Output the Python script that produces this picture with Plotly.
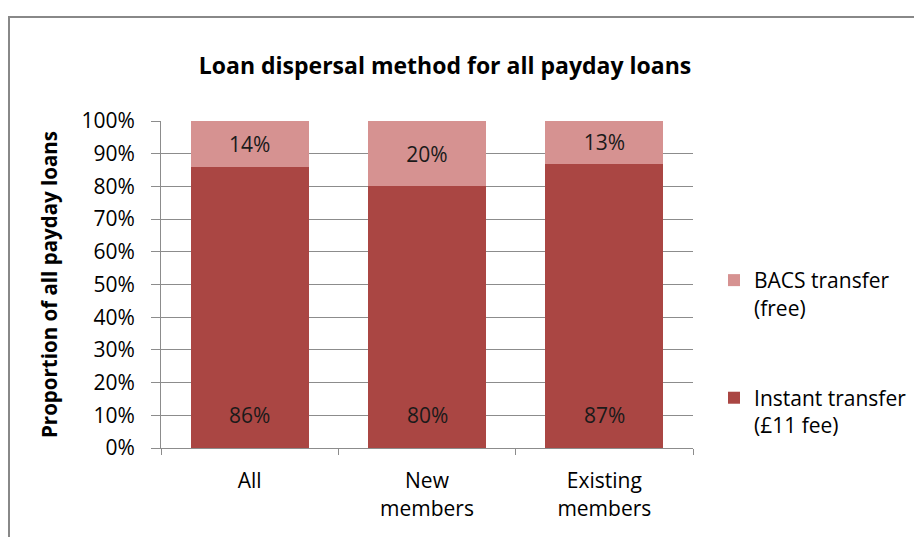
import plotly.graph_objects as go

categories = ["All", "New<br>members", "Existing<br>members"]
instant_pct = [86, 80, 87]
bacs_pct = [14, 20, 13]
series_names = ["Instant transfer<br>(£11 fee)", "BACS transfer<br>(free)"]
y_ticks = list(range(0, 101, 10))
y_tick_text = [f"{v}%" for v in y_ticks]

FONT = "Open Sans, Carlito, Calibri, sans-serif"
DARK = "#AA4643"
LIGHT = "#D69291"
GRID = "#8C8C8C"
TXT = 21

fig = go.Figure()
fig.add_trace(go.Bar(
    x=categories, y=instant_pct, name=series_names[0],
    marker=dict(color=DARK, line=dict(width=0)),
    legendgroup="instant", legendrank=2,
    hoverinfo="skip",
))
fig.add_trace(go.Bar(
    x=categories, y=bacs_pct, name=series_names[1],
    marker=dict(color=LIGHT, line=dict(width=0)),
    text=[f"{v}%" for v in bacs_pct], textposition="inside",
    insidetextanchor="middle", textangle=0,
    textfont=dict(family=FONT, size=TXT, color="#1a1a1a"),
    legendgroup="bacs", legendrank=1,
    hoverinfo="skip",
))

# Labels for the lower segments sit near the base of each bar
for cat, v in zip(categories, instant_pct):
    fig.add_annotation(
        x=cat, y=10, text=f"{v}%", showarrow=False,
        font=dict(family=FONT, size=TXT, color="#1a1a1a"),
        xref="x", yref="y",
    )

# Chart outline
fig.add_shape(
    type="rect", xref="paper", yref="paper",
    x0=-0.2857, x1=1.45, y0=-0.35, y1=1.318,
    line=dict(color="#888888", width=2), fillcolor="rgba(0,0,0,0)",
    layer="below",
)

fig.update_layout(
    width=914, height=537,
    barmode="stack", bargap=0.333,
    paper_bgcolor="white", plot_bgcolor="white",
    margin=dict(l=161, r=221, t=121, b=89, autoexpand=False),
    title=dict(
        text="<b>Loan dispersal method for all payday loans</b>",
        x=445 / 914, xanchor="center", y=1 - 66 / 537, yanchor="middle",
        font=dict(family=FONT, size=23, color="#000000"),
    ),
    font=dict(family=FONT, size=TXT, color="#000000"),
    legend=dict(
        x=1.0395, xanchor="left", y=0.575, yanchor="top",
        font=dict(family=FONT, size=21, color="#000000"),
        tracegroupgap=60, valign="top",
        itemsizing="constant", bgcolor="rgba(0,0,0,0)",
    ),
    showlegend=True,
)

fig.update_yaxes(
    range=[0, 100], tickmode="array", tickvals=y_ticks, ticktext=y_tick_text,
    showgrid=True, gridcolor=GRID, gridwidth=1,
    showline=True, linecolor=GRID, linewidth=1,
    ticks="outside", ticklen=9, tickcolor=GRID,
    tickfont=dict(family=FONT, size=TXT, color="#000000"),
    ticklabelstandoff=12,
    title=dict(text="<b>Proportion of all payday loans</b>", standoff=18,
               font=dict(family=FONT, size=20.5, color="#000000")),
    zeroline=False,
)
fig.update_xaxes(
    showline=True, linecolor=GRID, linewidth=1,
    ticks="outside", ticklen=6, tickcolor=GRID, tickson="boundaries",
    tickfont=dict(family=FONT, size=TXT, color="#000000"),
    ticklabelstandoff=14,
)

fig.write_html("out.html")
